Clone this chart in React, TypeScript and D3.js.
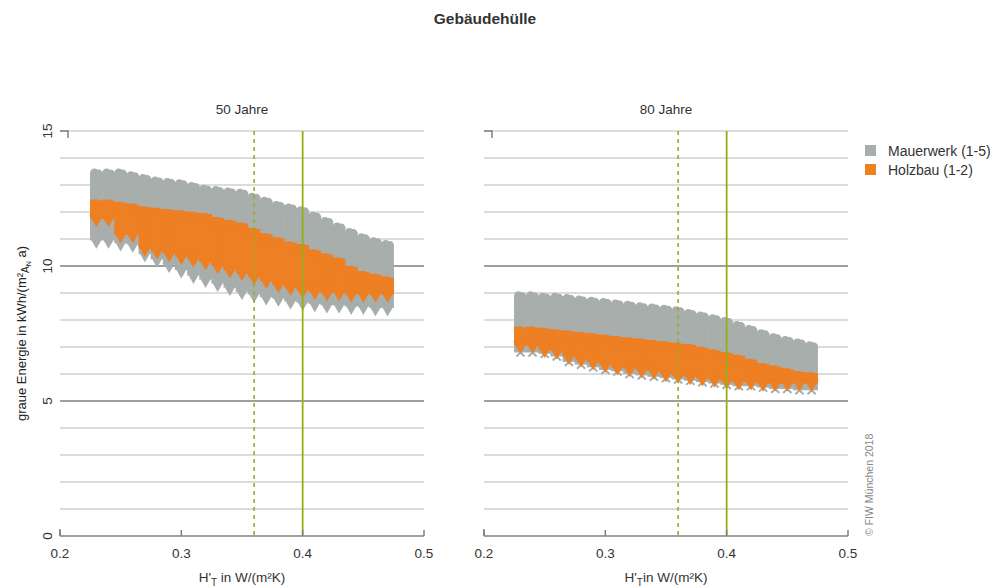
import React from "react";
import * as d3 from "d3";

// H'T columns (W/(m²K))
const xVals = [0.23, 0.24, 0.25, 0.26, 0.27, 0.28, 0.29, 0.3, 0.31, 0.32, 0.33, 0.34, 0.35,
  0.36, 0.37, 0.38, 0.39, 0.4, 0.41, 0.42, 0.43, 0.44, 0.45, 0.46, 0.47];

// 50 Jahre - upper / lower edge of each column
const mw50Hi = [13.6, 13.6, 13.6, 13.5, 13.4, 13.3, 13.25, 13.2, 13.1, 13.0, 12.95, 12.9, 12.85,
  12.7, 12.55, 12.4, 12.3, 12.2, 12.0, 11.8, 11.6, 11.4, 11.2, 11.05, 10.95];
const mw50Lo = [10.8, 10.8, 10.7, 10.65, 10.3, 10.1, 9.9, 9.7, 9.5, 9.35, 9.2, 9.05, 8.9,
  8.8, 8.7, 8.65, 8.55, 8.5, 8.45, 8.4, 8.4, 8.35, 8.35, 8.3, 8.3];
const hb50Hi = [12.45, 12.45, 12.37, 12.3, 12.2, 12.15, 12.1, 12.05, 12.0, 11.95, 11.8, 11.7, 11.6,
  11.4, 11.2, 11.05, 10.9, 10.8, 10.6, 10.45, 10.3, 10.0, 9.8, 9.7, 9.6];
const hb50Lo = [11.6, 11.6, 11.0, 11.0, 10.5, 10.4, 10.3, 10.2, 10.1, 10.0, 9.85, 9.7, 9.6,
  9.45, 9.3, 9.15, 9.05, 8.95, 8.9, 8.85, 8.85, 8.8, 8.8, 8.8, 8.8];

// 80 Jahre
const mw80Hi = [9.05, 9.05, 9.0, 9.0, 8.95, 8.9, 8.85, 8.8, 8.75, 8.7, 8.65, 8.6, 8.55,
  8.5, 8.4, 8.3, 8.2, 8.1, 7.95, 7.8, 7.65, 7.5, 7.4, 7.3, 7.2];
const mw80Lo = [6.65, 6.65, 6.6, 6.5, 6.3, 6.2, 6.1, 6.0, 5.95, 5.85, 5.8, 5.75, 5.7,
  5.65, 5.6, 5.55, 5.5, 5.45, 5.4, 5.4, 5.35, 5.3, 5.3, 5.25, 5.25];
const hb80Hi = [7.75, 7.75, 7.7, 7.65, 7.6, 7.55, 7.5, 7.45, 7.4, 7.35, 7.3, 7.25, 7.2,
  7.15, 7.1, 7.0, 6.9, 6.8, 6.7, 6.55, 6.4, 6.3, 6.2, 6.1, 6.05];
const hb80Lo = [6.9, 6.9, 6.75, 6.7, 6.5, 6.4, 6.3, 6.2, 6.1, 6.05, 6.0, 5.95, 5.85,
  5.8, 5.75, 5.7, 5.65, 5.6, 5.55, 5.55, 5.5, 5.5, 5.5, 5.5, 5.5];

const xTicks = [0.2, 0.3, 0.4, 0.5];
const yTicks = [0, 5, 10, 15];
const yGrid = [1, 2, 3, 4, 6, 7, 8, 9, 11, 12, 13, 14, 15];
const limitDashed = 0.36;
const limitSolid = 0.4;

const GREY = "#a7aeac";
const ORANGE = "#ee7f23";
const GREEN = "#93b01a";
const FONT = "'Liberation Sans', Arial, sans-serif";

const y = d3.scaleLinear().domain([0, 15]).range([536, 131]);

const sym = (type: any, size: number) => d3.symbol().type(type).size(size)() as string;

function Band({ x, hi, lo, color, topShape, botShape, botStroke }: any) {
  const step = x(0.01) - x(0);
  const w = step + 0.6;
  return (
    <g>
      {xVals.map((v, i) => {
        const cx = x(v);
        const yt = y(hi[i]) + 4;
        const yb = y(lo[i]) - 4;
        return (
          <g key={i}>
            <rect x={cx - w / 2} y={yt} width={w} height={Math.max(0, yb - yt)} fill={color} />
            <path d={topShape} transform={`translate(${cx - 2},${yt})`} fill={color} stroke={color} strokeWidth={1.5} />
            <path d={topShape} transform={`translate(${cx + 2},${yt + 1})`} fill={color} stroke={color} strokeWidth={1.5} />
            <path
              d={botShape}
              transform={`translate(${cx},${yb})${botStroke ? "" : " rotate(180)"}`}
              fill={botStroke ? "none" : color}
              stroke={color}
              strokeWidth={botStroke ? 2 : 1.5}
            />
          </g>
        );
      })}
    </g>
  );
}

function Panel({ x0, title, xLabel, mwHi, mwLo, hbHi, hbLo, mwBottom }: any) {
  const x = d3.scaleLinear().domain([0.2, 0.5]).range([x0, x0 + 364]);
  const [xa, xb] = x.range();
  return (
    <g fontFamily={FONT}>
      <text x={(xa + xb) / 2} y={114} textAnchor="middle" fontSize={13.5} fill="#333">{title}</text>
      {yGrid.map((t) => (
        <line key={t} x1={xa} x2={xb} y1={y(t)} y2={y(t)} stroke="#dcdcdc" strokeWidth={2} />
      ))}
      {[5, 10].map((t) => (
        <line key={t} x1={xa} x2={xb} y1={y(t)} y2={y(t)} stroke="#7f7f7f" strokeWidth={1.5} />
      ))}
      <Band x={x} hi={mwHi} lo={mwLo} color={GREY}
        topShape={sym(d3.symbolCircle, 40)}
        botShape={mwBottom === "x" ? sym(d3.symbolTimes, 45) : sym(d3.symbolDiamond, 55)}
        botStroke={mwBottom === "x"} />
      <Band x={x} hi={hbHi} lo={hbLo} color={ORANGE}
        topShape={sym(d3.symbolSquare, 50)}
        botShape={sym(d3.symbolTriangle, 60)}
        botStroke={false} />
      <line x1={x(limitDashed)} x2={x(limitDashed)} y1={y(15)} y2={y(0)} stroke={GREEN} strokeWidth={1.6} strokeDasharray="4,4" />
      <line x1={x(limitSolid)} x2={x(limitSolid)} y1={y(15)} y2={y(0)} stroke={GREEN} strokeWidth={1.8} />
      {/* x axis */}
      <line x1={xa} x2={xb} y1={y(0)} y2={y(0)} stroke="#7f7f7f" strokeWidth={1.5} />
      {xTicks.map((t) => (
        <g key={t}>
          <line x1={x(t)} x2={x(t)} y1={y(0)} y2={y(0) - 6} stroke="#7f7f7f" strokeWidth={1.5} />
          <text x={x(t)} y={558} textAnchor="middle" fontSize={13.5} fill="#333">{t.toFixed(1)}</text>
        </g>
      ))}
      {/* y axis ends */}
      <path d={`M${xa},${y(0) - 7}V${y(0)}`} stroke="#7f7f7f" strokeWidth={1.5} fill="none" />
      <path d={`M${xa},${y(15)}H${xa + 8}V${y(15) + 7}`} stroke="#7f7f7f" strokeWidth={1.5} fill="none" />
      <text x={(xa + xb) / 2} y={582} textAnchor="middle" fontSize={13.5} fill="#333">
        H'<tspan fontSize={10} dy={4}>T</tspan><tspan dy={-4}>{xLabel}</tspan>
      </text>
    </g>
  );
}

export default function App() {
  return (
    <svg width={993} height={588} style={{ display: "block", position: "absolute", left: 0, top: 0 }}>
      <rect width={1001} height={588} fill="#fff" />
      <text x={485} y={24} textAnchor="middle" fontFamily={FONT} fontWeight="bold" fontSize={15.5} fill="#333">
        Gebäudehülle
      </text>
      <Panel x0={60} title="50 Jahre" xLabel=" in W/(m²K)" mwHi={mw50Hi} mwLo={mw50Lo} hbHi={hb50Hi} hbLo={hb50Lo} mwBottom="diamond" />
      <Panel x0={484} title="80 Jahre" xLabel="in W/(m²K)" mwHi={mw80Hi} mwLo={mw80Lo} hbHi={hb80Hi} hbLo={hb80Lo} mwBottom="x" />
      {/* y tick labels, rotated */}
      {yTicks.map((t) => (
        <text key={t} transform={`translate(52,${y(t)}) rotate(-90)`} textAnchor="middle" fontFamily={FONT} fontSize={13.5} fill="#333">
          {t}
        </text>
      ))}
      <text transform={`translate(26,${(y(0) + y(15)) / 2}) rotate(-90)`} textAnchor="middle" fontFamily={FONT} fontSize={13} fill="#222">
        graue Energie in kWh/(m²<tspan fontSize={10} dy={3}>A</tspan><tspan fontSize={7} dy={2}>N</tspan><tspan dy={-5}> a)</tspan>
      </text>
      {/* legend */}
      <g fontFamily={FONT} fontSize={14} fill="#333">
        <rect x={865} y={145} width={11} height={11} fill={GREY} />
        <text x={888} y={156}>Mauerwerk (1-5)</text>
        <rect x={865} y={164} width={11} height={11} fill={ORANGE} />
        <text x={888} y={175}>Holzbau (1-2)</text>
      </g>
      <text transform="translate(873,536) rotate(-90)" fontFamily={FONT} fontSize={10.5} fill="#888">
        © FIW München 2018
      </text>
    </svg>
  );
}
